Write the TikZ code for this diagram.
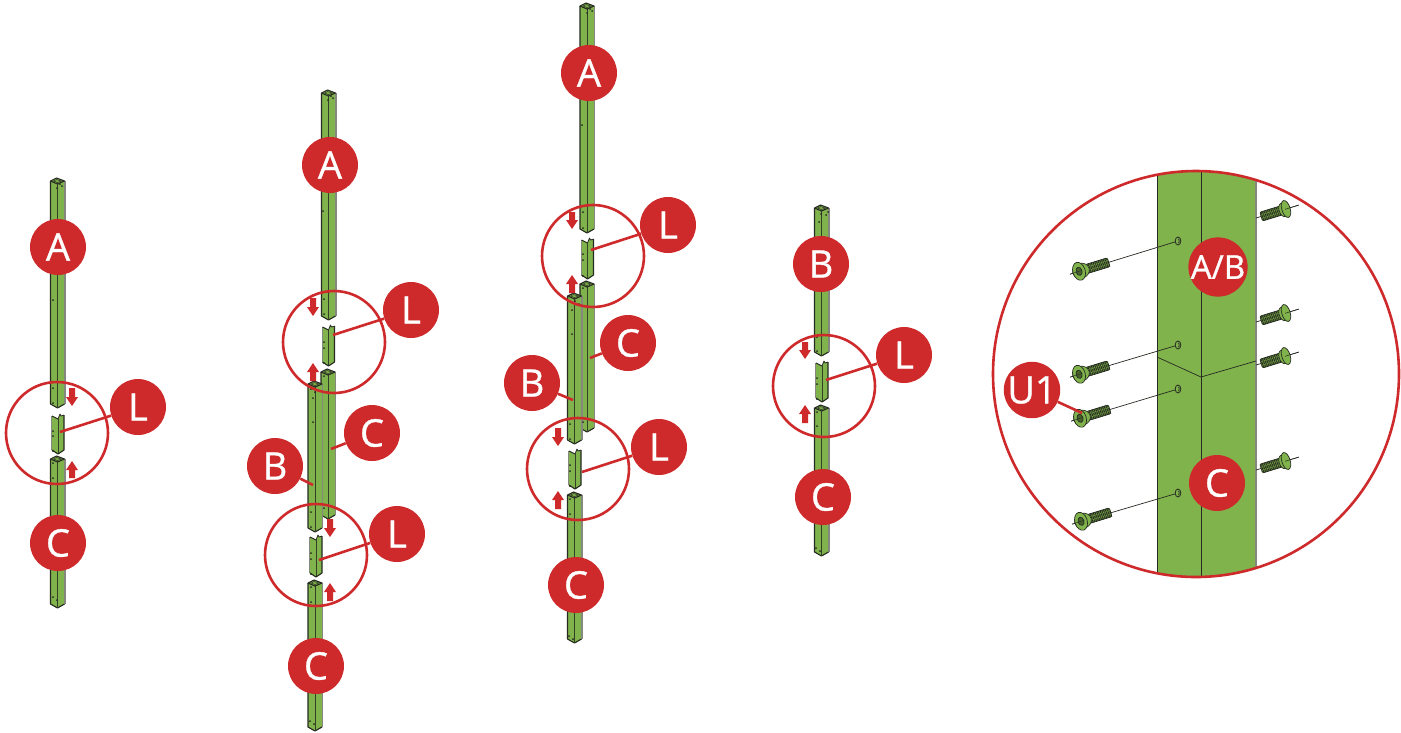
\documentclass[tikz,border=0pt]{standalone}
\usepackage{fontspec}
\setmainfont{Open Sans}
\newfontfamily\labfont{Open Sans}[FakeBold=0.9]
\definecolor{rd}{HTML}{CE2A2B}
\definecolor{gr}{HTML}{80B34C}
\definecolor{dk}{HTML}{262A22}
\definecolor{gy}{HTML}{85887F}
\tikzset{
  lab/.style={circle,fill=rd,text=white,inner sep=0pt,minimum size=56pt,font=\labfont\fontsize{38}{38}\selectfont},
  ring/.style={circle,draw=rd,line width=2.6pt,inner sep=0pt,minimum size=102pt},
  lead/.style={draw=rd,line width=2.6pt},
  edge/.style={draw=dk,line width=1.1pt,line join=round},
  ridge/.style={draw=dk!85!gr,line width=0.8pt},
  greyedge/.style={draw=gy,line width=1.5pt},
  thin line/.style={draw=dk,line width=0.7pt}
}
% full tube: centre x, top y, bottom y
\newcommand\tube[3]{%
  \fill[gr] (#1-7,#2+3) -- (#1-1,#2) -- (#1+7,#2+3) -- (#1+7,#3-4) -- (#1,#3) -- (#1-7,#3-4) -- cycle;
  \draw[greyedge] (#1+7.3,#2+3) -- (#1+7.3,#3-4);
  \draw[edge] (#1-7,#2+3) -- (#1-7,#3-4) -- (#1,#3) -- (#1+7,#3-4);
  \draw[ridge] (#1,#2+6) -- (#1,#3);
  \draw[edge] (#1-7,#2+3) -- (#1-1,#2) -- (#1+7,#2+3) -- (#1,#2+6) -- cycle;
  \draw[dk,line width=0.5pt] (#1-4,#2+3) -- (#1-1,#2+1.6) -- (#1+4,#2+3) -- (#1,#2+4.5) -- cycle;
}
% open connector piece
\newcommand\conn[3]{%
  \fill[gr] (#1-6,#2+3) -- (#1,#2+6) -- (#1+2,#2+1) -- (#1+3,#2+3) -- (#1+6,#2+2) -- (#1+6,#3-4) -- (#1,#3) -- (#1-6,#3-4) -- cycle;
  \draw[greyedge,line width=0.9pt] (#1-6.4,#2+3) -- (#1-6.4,#3-4);
  \draw[edge] (#1-6,#2+3) -- (#1,#2+6);
  \draw[ridge] (#1,#2+6) -- (#1,#3);
  \draw[edge] (#1+6,#2+2) -- (#1+6,#3-4) -- (#1,#3) -- (#1-6,#3-4);
  \draw[edge,line width=0.8pt] (#1,#2+6) -- (#1+2,#2+1) -- (#1+3,#2+3) -- (#1+6,#2+2);
}
\newcommand\pdots[1]{\foreach \p in {#1} \fill[dk] \p circle (1pt);}
\newcommand\dnarr[3]{\fill[rd] (#1-3,#2) -- (#1+3,#2) -- (#1+3,#3-9) -- (#1+6,#3-9) -- (#1,#3) -- (#1-6,#3-9) -- (#1-3,#3-9) -- cycle;}
\newcommand\uparr[3]{\fill[rd] (#1-3,#3) -- (#1+3,#3) -- (#1+3,#2+9) -- (#1+6,#2+9) -- (#1,#2) -- (#1-6,#2+9) -- (#1-3,#2+9) -- cycle;}
\newcommand\threads[2]{%
  \fill[gr!75!black] (#1,-4.6) rectangle (#2,4.6);
  \draw[dk,line width=0.7pt,rounded corners=1.5pt] (#1,-4.6) rectangle (#2,4.6);
  \foreach \q in {0,...,12} \draw[dk,line width=0.8pt] ({#1+(#2-#1)*(\q+0.5)/13},-4.6) -- ({#1+(#2-#1)*(\q+0.5)/13+0.7},4.6);
  \draw[gr,line width=0.6pt,dash pattern=on 1pt off 1pt] (#1,-1.8) -- (#2,-1.8);
  \draw[gr,line width=0.6pt,dash pattern=on 1pt off 1pt] (#1,1.8) -- (#2,1.8);
}
\begin{document}
\begin{tikzpicture}[x=1pt,y=-1pt]
\useasboundingbox (0,0) rectangle (1401,732);

% ---------- assembly 1
\tube{57.5}{178}{408}
\tube{57.5}{456}{608}
\conn{58}{413}{454}
\pdots{(57,188),(62,186),(60,184),(53,300),(53,388),(53,403),(53,463),(53,478),(53,431),(53,436),(53,451),(53,597),(57,600)}
\dnarr{72}{388}{406}
\uparr{72}{461}{478}
\node[ring] (r1) at (57,433) {};
\node[lab] (a1) at (58,247) {A};
\node[lab] (c1) at (58,543) {C};
\node[lab] (l1) at (138,407) {L};
\coordinate (e1) at (60,432);
\draw[lead] (l1) -- (e1);

% ---------- assembly 2
\tube{328.5}{90}{320}
\tube{328}{369}{519}
\tube{315}{381}{532}
\conn{328.5}{324}{366}
\conn{316}{534}{577}
\tube{315}{580}{731}
\pdots{(328,100),(333,98),(331,96),(323,211),(324,299),(324,314),(324,376),(324,342),(324,348),(324,363),(324,508),(311,389),(315,392),(313,398),(313,422),(311,512),(311,527),(311,553),(311,559),(311,574),(311,587),(311,602),(310,721),(314,724)}
\dnarr{313}{298}{316}
\uparr{313}{363}{381}
\dnarr{330}{519}{537}
\uparr{330}{583}{601}
\node[ring] (r2) at (334,342) {};
\node[ring] (r3) at (316,555) {};
\node[lab] (a2) at (330,165) {A};
\node[lab] (l2) at (411,310) {L};
\node[lab] (c2) at (372,433) {C};
\node[lab] (b2) at (275,466) {B};
\node[lab] (l3) at (397,534) {L};
\node[lab] (c3) at (316,666) {C};
\coordinate (e2) at (333,335);
\coordinate (e3) at (331,449);
\coordinate (e4) at (313,485);
\coordinate (e5) at (319,560);
\draw[lead] (l2) -- (e2);
\draw[lead] (c2) -- (e3);
\draw[lead] (b2) -- (e4);
\draw[lead] (l3) -- (e5);

% ---------- assembly 3
\tube{587}{3}{233}
\tube{587}{281}{432}
\tube{574.5}{293}{444}
\conn{587.5}{237}{279}
\conn{575}{448}{489}
\tube{574.5}{492}{643}
\pdots{(587,13),(592,11),(590,9),(582,125),(583,212),(583,228),(583,254),(583,260),(583,276),(583,288),(583,422),(572,310),(572,334),(575,301),(579,304),(570,424),(570,439),(570,465),(570,471),(570,486),(570,499),(570,514),(569,636),(573,639)}
\dnarr{572}{212}{229}
\uparr{572}{275}{293}
\dnarr{558}{428}{446}
\uparr{558}{491}{509}
\node[ring] (r4) at (593,256) {};
\node[ring] (r5) at (578,469) {};
\node[lab] (a3) at (589,73) {A};
\node[lab] (l4) at (668,225) {L};
\node[lab] (c4) at (628,343) {C};
\node[lab] (b3) at (532,383) {B};
\node[lab] (l5) at (659,447) {L};
\node[lab] (c5) at (576,585) {C};
\coordinate (e6) at (591,250);
\coordinate (e7) at (590,358);
\coordinate (e8) at (573,400);
\coordinate (e9) at (582,472);
\draw[lead] (l4) -- (e6);
\draw[lead] (c4) -- (e7);
\draw[lead] (b3) -- (e8);
\draw[lead] (l5) -- (e9);

% ---------- assembly 4
\tube{821.5}{205}{356}
\tube{821.5}{405}{556}
\conn{822}{360}{402}
\pdots{(821,214),(826,215),(828,212),(819,222),(817,337),(817,351),(817,378),(817,384),(817,399),(817,412),(817,426),(816,548),(820,551)}
\dnarr{805}{342}{359}
\uparr{805}{405}{423}
\node[ring] (r6) at (824,386) {};
\node[lab] (b4) at (821,264) {B};
\node[lab] (l6) at (904,355) {L};
\node[lab] (c6) at (823,497) {C};
\coordinate (e10) at (826,380);
\draw[lead] (l6) -- (e10);

% ---------- detail circle
\begin{scope}
  \clip (1196,374) circle (203pt);
  \fill[gr] (1157,160) rectangle (1256,590);
  \draw[dk,line width=0.9pt] (1157,160) -- (1157,590);
  \draw[dk,line width=0.8pt] (1201,160) -- (1201,590);
  \draw[gy,line width=1.5pt] (1256,160) -- (1256,590);
  \draw[dk,line width=0.7pt] (1157,357) -- (1201,377) -- (1256,361);
\end{scope}

% left screws and holes
\foreach \i/\hx/\hy/\sx/\sy in {1/1178/241/1080/271,2/1178/345/1080/374,3/1178/389/1081/418,4/1178/493/1082/521}{
  \coordinate (h\i) at (\hx,\hy);
  \coordinate (t\i) at (\sx-10,\sy+3.2);
  \draw[thin line] (t\i) -- (h\i);
  \begin{scope}[shift={(\sx,\sy)},rotate=17]
    \threads{7}{30}
    \filldraw[fill=gr,draw=dk,line width=0.6pt] (1,0) ellipse (8.5pt and 7.5pt);
    \filldraw[fill=gr,draw=dk,line width=0.7pt] (-1,0) ellipse (6.2pt and 9.2pt);
    \filldraw[fill=gr!55!black,draw=dk,line width=0.7pt] (-1,0) ellipse (3pt and 4.2pt);
    \draw[dk,line width=0.4pt] (-10,0) -- (2,0);
  \end{scope}
  \filldraw[fill=gr,draw=dk,line width=0.8pt] (h\i) ellipse (2.8pt and 4pt);
  \draw[dk,line width=0.7pt] (\hx+0.2,\hy-2) arc (90:-90:1pt and 2pt);
}
% right screws
\foreach \i/\sx/\sy in {5/1286/209,6/1286/313,7/1286/356,8/1286/461}{
  \coordinate (f\i) at (\sx-30,\sy+9);
  \coordinate (g\i) at (\sx+13,\sy-4);
  \draw[thin line] (f\i) -- (g\i);
  \begin{scope}[shift={(\sx,\sy)},rotate=17]
    \threads{-26}{-3}
    \filldraw[fill=gr,draw=dk,line width=0.6pt] (-3,0) ellipse (4pt and 7pt);
    \filldraw[fill=gr,draw=dk,line width=0.7pt] (0,0) ellipse (4.2pt and 8.8pt);
    \draw[dk,line width=0.5pt] (-1,0) -- (13,0);
  \end{scope}
}
\node[circle,draw=rd,line width=2.6pt,inner sep=0pt,minimum size=406pt] (big) at (1196,374) {};
\node[lab,minimum size=58pt,font=\labfont\fontsize{33}{33}\selectfont] (ab) at (1218,267) {A/B};
\node[lab] (cc) at (1217,483) {C};
\node[lab] (u1) at (1032,390) {U1};
\coordinate (e11) at (1082,413);
\draw[lead] (u1) -- (e11);
\end{tikzpicture}
\end{document}
